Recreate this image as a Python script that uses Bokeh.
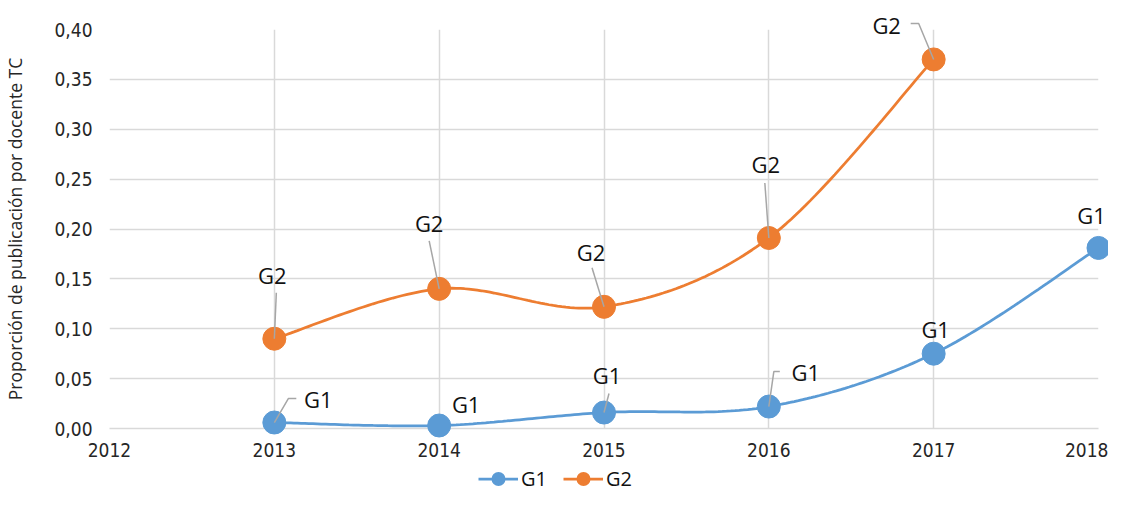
import numpy as np
from bokeh.plotting import figure
from bokeh.layouts import column
from bokeh.models import (FixedTicker, CustomJSTickFormatter, Legend, LegendItem,
                          ColumnDataSource, Range1d)
from bokeh.core.properties import value
from bokeh.embed import file_html
from bokeh.resources import INLINE

# ---------------- data ----------------
series_names = ["G1", "G2"]
years_g1 = [2013, 2014, 2015, 2016, 2017, 2018]
g1_values = [0.006, 0.003, 0.016, 0.022, 0.075, 0.181]
years_g2 = [2013, 2014, 2015, 2016, 2017]
g2_values = [0.090, 0.140, 0.122, 0.191, 0.370]
x_ticks = [2012, 2013, 2014, 2015, 2016, 2017, 2018]
y_ticks = [0.0, 0.05, 0.10, 0.15, 0.20, 0.25, 0.30, 0.35, 0.40]
y_title = "Proporción de publicación por docente TC"

# ---------------- style / layout ----------------
colors = ["#5B9BD5", "#ED7D31"]
W, H, LEG_H = 1108, 465, 27
ML, MR, MT, MB = 108, 10, 29, 37
FW, FH = W - ML - MR, H - MT - MB
X0, X1 = x_ticks[0], x_ticks[-1]
Y0, Y1 = y_ticks[0], y_ticks[-1]
PX_X = FW / (X1 - X0)
PX_Y = FH / (Y1 - Y0)

# label offsets (screen px, y down) for each point
g1_label_off = [(44, -24), (27, -22), (3, -38), (37, -35), (2, -25), (-7, -33)]
g2_label_off = [(-2, -64), (-10, -66), (-13, -55), (-3, -74), (-47, -34)]
# leader lines (screen px, relative to point)
g1_leaders = [[(22, -24), (14, -24), (0, 0)], None, [(5, -19), (0, 0)],
              [(11, -35), (5, -35), (0, 0)], None, None]
g2_leaders = [[(2, -46), (0, 0)], [(-10, -48), (0, 0)], [(-12, -39), (0, 0)],
              [(-4, -55), (0, 0)], [(-23, -36), (-15, -36), (0, 0)]]

TICK_FONT = "'DejaVu Sans Condensed', 'DejaVu Sans'"
LABEL_FONT = "Open Sans"

p = figure(width=W, height=H, output_backend="svg", toolbar_location=None,
           x_range=Range1d(X0, X1), y_range=Range1d(Y0, Y1),
           min_border_left=ML, min_border_right=MR, min_border_top=MT,
           min_border_bottom=MB, outline_line_color=None,
           background_fill_color="white", border_fill_color="white")

# axes
for ax in (p.xaxis[0], p.yaxis[0]):
    ax.major_tick_line_color = None
    ax.minor_tick_line_color = None
    ax.major_tick_out = 0
    ax.major_tick_in = 0
    ax.minor_tick_out = 0
    ax.minor_tick_in = 0
    ax.major_label_text_font = TICK_FONT
    ax.major_label_text_font_size = "19px"
    ax.major_label_text_color = "#262626"
p.xaxis.ticker = FixedTicker(ticks=x_ticks)
p.yaxis.ticker = FixedTicker(ticks=y_ticks)
p.xaxis.axis_line_color = "#D9D9D9"
p.xaxis.axis_line_width = 1.5
p.yaxis.axis_line_color = None
p.xaxis.major_label_standoff = 14
p.yaxis.major_label_standoff = 17
p.yaxis.formatter = CustomJSTickFormatter(code="return tick.toFixed(2).replace('.', ',');")
p.yaxis.axis_label = y_title
p.yaxis.axis_label_text_font = LABEL_FONT
p.yaxis.axis_label_text_font_style = "normal"
p.yaxis.axis_label_text_font_size = "17.5px"
p.yaxis.axis_label_text_color = "#262626"
p.yaxis.axis_label_standoff = 24

p.xgrid.ticker = FixedTicker(ticks=x_ticks)
p.ygrid.ticker = FixedTicker(ticks=y_ticks)
for g in (p.xgrid[0], p.ygrid[0]):
    g.grid_line_color = "#D9D9D9"
    g.grid_line_width = 1.5


def smooth(xs, ys, n=40):
    pts = np.column_stack([xs, ys]).astype(float)
    ext = np.vstack([pts[0], pts, pts[-1]])
    out = []
    for i in range(len(pts) - 1):
        p0, p1, p2, p3 = ext[i], ext[i + 1], ext[i + 2], ext[i + 3]
        c1 = p1 + (p2 - p0) / 6.0
        c2 = p2 - (p3 - p1) / 6.0
        t = np.linspace(0, 1, n)[:, None]
        seg = ((1 - t) ** 3) * p1 + 3 * ((1 - t) ** 2) * t * c1 + 3 * (1 - t) * t ** 2 * c2 + t ** 3 * p2
        out.append(seg if i == 0 else seg[1:])
    arr = np.vstack(out)
    return arr[:, 0], arr[:, 1]


all_series = [(years_g1, g1_values, g1_label_off, g1_leaders),
              (years_g2, g2_values, g2_label_off, g2_leaders)]
for (xs, ys, offs, leaders), name, col in zip(all_series, series_names, colors):
    sx, sy = smooth(xs, ys)
    p.line(sx, sy, line_color=col, line_width=2.75, level="overlay")
    p.scatter(xs, ys, size=23, fill_color=col, line_color=col, marker="circle",
              level="overlay")

for (xs, ys, offs, leaders), name, col in zip(all_series, series_names, colors):
    lx, ly = [], []
    for x, y, ld in zip(xs, ys, leaders):
        if ld is None:
            continue
        lx.append([x + dx / PX_X for dx, dy in ld])
        ly.append([y - dy / PX_Y for dx, dy in ld])
    p.multi_line(lx, ly, line_color="#A6A6A6", line_width=1.5, level="overlay")
    src = ColumnDataSource(dict(x=xs, y=ys, t=[name] * len(xs),
                                xo=[o[0] for o in offs], yo=[o[1] for o in offs]))
    p.text(x="x", y="y", text="t", x_offset="xo", y_offset="yo", source=src,
           text_font=value(LABEL_FONT), text_font_size="22px", text_color="#111111",
           text_align="center", text_baseline="middle", level="overlay")

# ---------------- legend strip ----------------
pl = figure(width=W, height=LEG_H, output_backend="svg", toolbar_location=None,
            x_range=Range1d(0, 1), y_range=Range1d(0, 1),
            x_axis_type=None, y_axis_type=None, outline_line_color=None,
            min_border=0, border_fill_color="white", background_fill_color="white")
pl.grid.visible = False
items = []
for (xs, ys, offs, leaders), name, col in zip(all_series, series_names, colors):
    lr = pl.line(xs, ys, line_color=col, line_width=2.75)
    sr = pl.scatter(xs, ys, size=15, fill_color=col, line_color=col, line_width=4,
                    marker="circle")
    items.append(LegendItem(label=name, renderers=[lr, sr]))
legend = Legend(items=items, location=(369, 0), orientation="horizontal",
                glyph_width=40, glyph_height=25, label_text_font=LABEL_FONT,
                label_text_font_size="20px", label_text_color="#111111",
                padding=0, margin=0, spacing=16, label_standoff=3,
                border_line_color=None, background_fill_alpha=0)
pl.add_layout(legend, "center")

layout = column(p, pl, spacing=0)
open("out.html", "w").write(file_html(layout, INLINE))
